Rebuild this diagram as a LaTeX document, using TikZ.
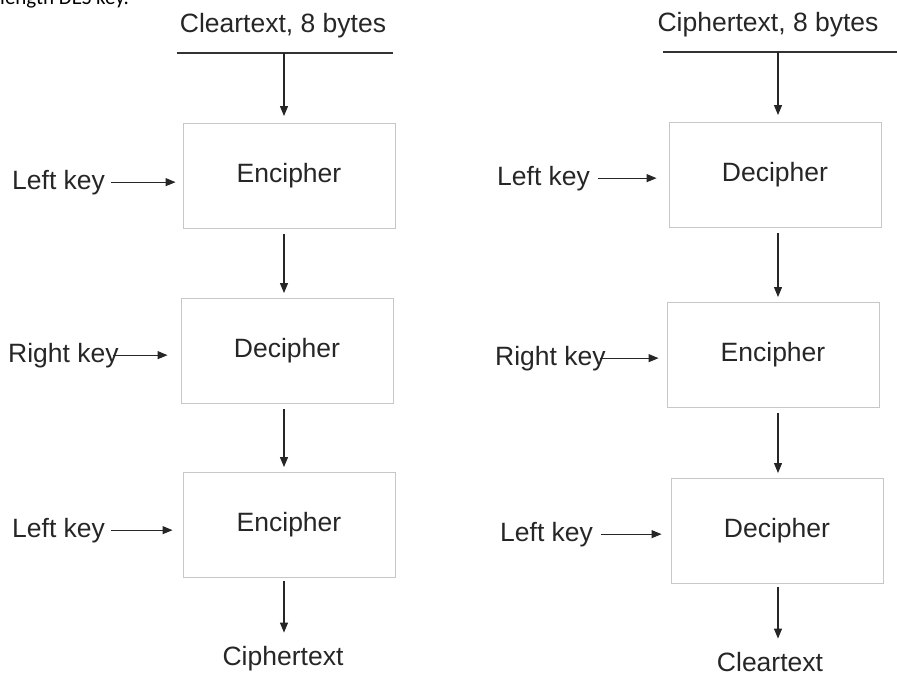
\documentclass[tikz,border=0pt]{standalone}
\usepackage{fontspec}
\setmainfont{Liberation Sans}
\newfontfamily\capfont{Carlito}
\usetikzlibrary{arrows.meta}

\begin{document}
\begin{tikzpicture}[x=1pt,y=-1pt,
  every node/.style={font=\fontsize{26.5}{30}\selectfont, text=black!85, inner sep=0pt},
  stage/.style={draw=black!22, line width=0.9pt, minimum width=212pt, minimum height=105pt},
  flow/.style={-{Triangle[length=10pt,width=8pt]}, line width=1.1pt, black!85},
  rule/.style={line width=1.1pt, black!80}]
  \clip (0,0) rectangle (897,677);
  % caption cut off at the top
  \node[font=\capfont\fontsize{21}{24}\selectfont, text=black, anchor=base west] (cap) at (0,5) {length DES key.};
  % axes of the arrows
  \coordinate (axL) at (284,0);
  \coordinate (axR) at (778,0);
  % triple encryption (left)
  \node[anchor=base] (inL) at (283,33) {Cleartext, 8 bytes};
  \coordinate (inLw) at (177,53);
  \coordinate (inLe) at (393,53);
  \node[stage] (l1) at (289,176) {Encipher};
  \node[stage] (l2) at (287,351) {Decipher};
  \node[stage] (l3) at (289,525) {Encipher};
  \node[anchor=base] (outL) at (283,665) {Ciphertext};
  \node[anchor=base west] (kl1) at (12,189) {Left key};
  \node[anchor=base west] (kl2) at (8,362) {Right key};
  \node[anchor=base west] (kl3) at (12,537) {Left key};
  % triple decryption (right)
  \node[anchor=base] (inR) at (768,32) {Ciphertext, 8 bytes};
  \coordinate (inRw) at (663,52);
  \coordinate (inRe) at (897,52);
  \node[stage] (r1) at (775,175) {Decipher};
  \node[stage] (r2) at (773,355) {Encipher};
  \node[stage] (r3) at (777,531) {Decipher};
  \node[anchor=base] (outR) at (770,671) {Cleartext};
  \node[anchor=base west] (kr1) at (497,185) {Left key};
  \node[anchor=base west] (kr2) at (495,365) {Right key};
  \node[anchor=base west] (kr3) at (500,541) {Left key};
  % lines under the inputs
  \draw[rule] (inLw) -- (inLe);
  \draw[rule] (inRw) -- (inRe);
  % data path
  \draw[flow, shorten >=7pt] (inLw -| axL) -- (l1.north -| axL);
  \draw[flow, shorten <=5pt, shorten >=5pt] (l1.south -| axL) -- (l2.north -| axL);
  \draw[flow, shorten <=5pt, shorten >=5pt] (l2.south -| axL) -- (l3.north -| axL);
  \draw[flow, shorten <=3pt, shorten >=13pt] (l3.south -| axL) -- (outL.north -| axL);
  \draw[flow, shorten >=7pt] (inRw -| axR) -- (r1.north -| axR);
  \draw[flow, shorten <=5pt, shorten >=5pt] (r1.south -| axR) -- (r2.north -| axR);
  \draw[flow, shorten <=5pt, shorten >=5pt] (r2.south -| axR) -- (r3.north -| axR);
  \draw[flow, shorten <=3pt, shorten >=13pt] (r3.south -| axR) -- (outR.north -| axR);
  % keys
  \draw[flow, shorten <=6pt, shorten >=7pt] (kl1.east) -- (kl1.east -| l1.west);
  \draw[flow, shorten <=-6pt, shorten >=13pt] (kl2.east) -- (kl2.east -| l2.west);
  \draw[flow, shorten <=6pt, shorten >=10pt] (kl3.east) -- (kl3.east -| l3.west);
  \draw[flow, shorten <=8pt, shorten >=12pt] (kr1.east) -- (kr1.east -| r1.west);
  \draw[flow, shorten <=-6pt, shorten >=8pt] (kr2.east) -- (kr2.east -| r2.west);
  \draw[flow, shorten <=8pt, shorten >=9pt] (kr3.east) -- (kr3.east -| r3.west);
\end{tikzpicture}
\end{document}
